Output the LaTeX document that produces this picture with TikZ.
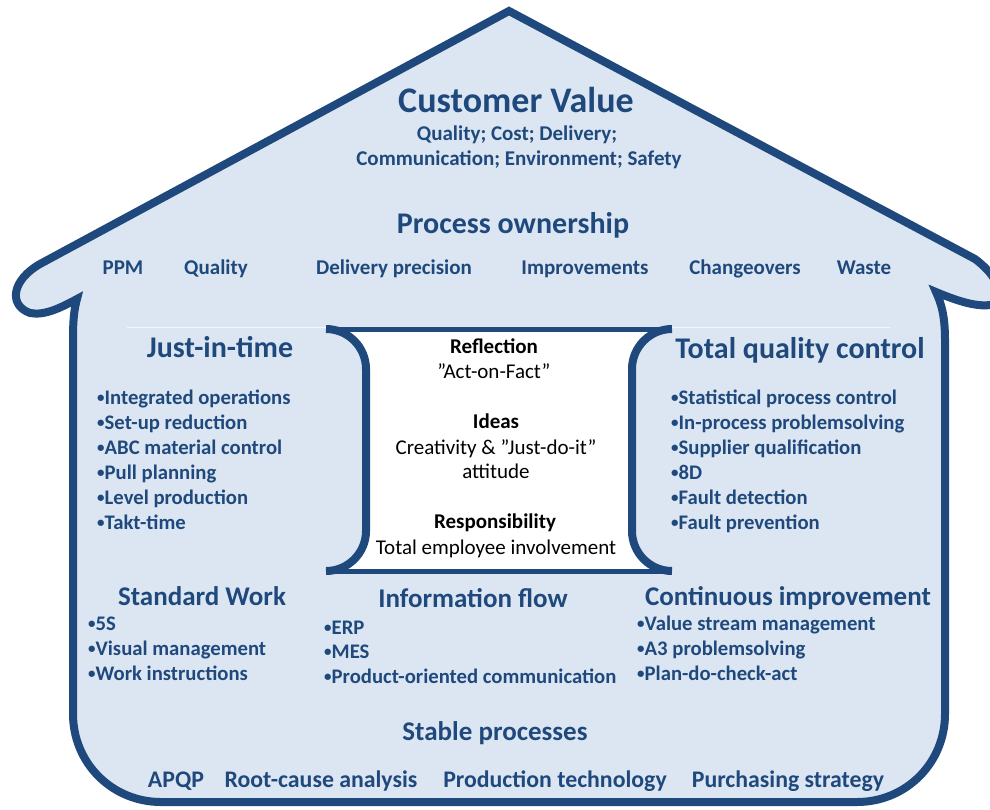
\documentclass[tikz,border=0pt]{standalone}
\usepackage{fontspec}
\setmainfont{Carlito}
\usepackage{tikz}

\definecolor{housedark}{HTML}{1F497D}
\definecolor{houselight}{HTML}{DCE6F2}
\newcommand{\dotmark}{{\fontsize{15}{15}\selectfont\raisebox{1.2pt}{•}}}

\begin{document}
\begin{tikzpicture}[x=1pt, y=-1pt,
  title/.style={font=\bfseries\fontsize{36}{40}\selectfont, text=housedark, anchor=base, inner sep=0},
  heading/.style={font=\bfseries\fontsize{30}{34}\selectfont, text=housedark, anchor=base, inner sep=0},
  subhead/.style={font=\bfseries\fontsize{27}{32}\selectfont, text=housedark, anchor=base, inner sep=0},
  item/.style={font=\bfseries\fontsize{20.7}{24}\selectfont, text=housedark, anchor=base west, inner sep=0},
  label/.style={font=\bfseries\fontsize{21}{24}\selectfont, text=housedark, anchor=base, inner sep=0},
  footer/.style={font=\bfseries\fontsize{23.8}{28}\selectfont, text=housedark, anchor=base, inner sep=0},
  boxhead/.style={font=\bfseries\fontsize{21}{25}\selectfont, anchor=base, inner sep=0},
  boxtext/.style={font=\fontsize{21}{25}\selectfont, anchor=base, inner sep=0}]
 \useasboundingbox (0,0) rectangle (990,809);

 % House outline
 \begin{scope}
  \clip (0,0) rectangle (990,809);
  \draw[housedark, fill=houselight, line width=8pt, line join=miter]
    (509,11) -- (40,264)
    .. controls (12,280) and (8,305) .. (30,313)
    .. controls (45,316) and (62,307) .. (77,299)
    .. controls (74,310) and (73,320) .. (73,340) -- (73,714)
    .. controls (73,763) and (112,802) .. (161,802) -- (857,802)
    .. controls (906,802) and (945,763) .. (945,714) -- (945,340)
    .. controls (945,315) and (941,303) .. (936,292)
    .. controls (955,300) and (975,307) .. (990,305)
    .. controls (1005,302) and (1003,280) .. (975,259) -- cycle;
 \end{scope}
 \draw[white, line width=1pt, opacity=0.7] (127,327) -- (890,327);

 % Centre box
 \fill[white] (326,329) -- (672,329)
    .. controls (650,329) and (632,347) .. (632,369) -- (632,531)
    .. controls (632,553) and (650,571) .. (672,571) -- (326,571)
    .. controls (348,571) and (366,553) .. (366,531) -- (366,369)
    .. controls (366,347) and (348,329) .. (326,329) -- cycle;
 \draw[housedark, line width=5pt] (326,329) -- (672,329);
 \draw[housedark, line width=5pt] (326,571) -- (672,571);
 \draw[housedark, line width=8pt] (326,329)
    .. controls (348,329) and (366,347) .. (366,369) -- (366,531)
    .. controls (366,553) and (348,571) .. (326,571);
 \draw[housedark, line width=8pt] (672,329)
    .. controls (650,329) and (632,347) .. (632,369) -- (632,531)
    .. controls (632,553) and (650,571) .. (672,571);

 % Roof
 \node[title] (value) at (516,112) {Customer Value};
 \node[label] (valueA) at (517,140) {Quality; Cost; Delivery;};
 \node[label] (valueB) at (519,165) {Communication; Environment; Safety};
 \node[heading] (owner) at (513,233) {Process ownership};

 % Ownership measures
 \node[label] (ppm) at (123,274) {PPM};
 \node[label] (quality) at (216,274) {Quality};
 \node[label] (delivery) at (394,274) {Delivery precision};
 \node[label] (improve) at (585,274) {Improvements};
 \node[label] (changeover) at (745,274) {Changeovers};
 \node[label] (waste) at (864,274) {Waste};

 % Just-in-time
 \node[heading] (jit) at (220,357) {Just-in-time};
 \node[item] (jitA) at (97,404) {\dotmark Integrated operations};
 \node[item] (jitB) at (97,429) {\dotmark Set-up reduction};
 \node[item] (jitC) at (97,454) {\dotmark ABC material control};
 \node[item] (jitD) at (97,479) {\dotmark Pull planning};
 \node[item] (jitE) at (97,504) {\dotmark Level production};
 \node[item] (jitF) at (97,529) {\dotmark Takt-time};

 % Total quality control
 \node[heading] (tqc) at (800,358) {Total quality control};
 \node[item] (tqcA) at (671,404) {\dotmark Statistical process control};
 \node[item] (tqcB) at (671,429) {\dotmark In-process problemsolving};
 \node[item] (tqcC) at (671,454) {\dotmark Supplier qualification};
 \node[item] (tqcD) at (671,479) {\dotmark 8D};
 \node[item] (tqcE) at (671,504) {\dotmark Fault detection};
 \node[item] (tqcF) at (671,529) {\dotmark Fault prevention};

 % Centre texts
 \node[boxhead] (reflect) at (494,353) {Reflection};
 \node[boxtext] (reflectA) at (494,378) {”Act-on-Fact”};
 \node[boxhead] (ideas) at (496,428) {Ideas};
 \node[boxtext] (ideasA) at (496,454) {Creativity \& ”Just-do-it”};
 \node[boxtext] (ideasB) at (496,478) {attitude};
 \node[boxhead] (resp) at (495,528) {Responsibility};
 \node[boxtext] (respA) at (496,554) {Total employee involvement};

 % Standard Work
 \node[subhead] (stdwork) at (202,605) {Standard Work};
 \node[item] (stdA) at (88,630) {\dotmark 5S};
 \node[item] (stdB) at (88,655) {\dotmark Visual management};
 \node[item] (stdC) at (88,680) {\dotmark Work instructions};

 % Information flow
 \node[subhead] (info) at (473,607) {Information flow};
 \node[item] (infoA) at (324,634) {\dotmark ERP};
 \node[item] (infoB) at (324,658) {\dotmark MES};
 \node[item] (infoC) at (324,683) {\dotmark Product-oriented communication};

 % Continuous improvement
 \node[subhead] (ci) at (788,605) {Continuous improvement};
 \node[item] (ciA) at (637,630) {\dotmark Value stream management};
 \node[item] (ciB) at (637,655) {\dotmark A3 problemsolving};
 \node[item] (ciC) at (637,680) {\dotmark Plan-do-check-act};

 % Foundation
 \node[subhead] (stable) at (495,740) {Stable processes};
 \node[footer] (apqp) at (176,787) {APQP};
 \node[footer] (rootcause) at (321,787) {Root-cause analysis};
 \node[footer] (prodtech) at (555,787) {Production technology};
 \node[footer] (purchase) at (788,787) {Purchasing strategy};
\end{tikzpicture}
\end{document}
